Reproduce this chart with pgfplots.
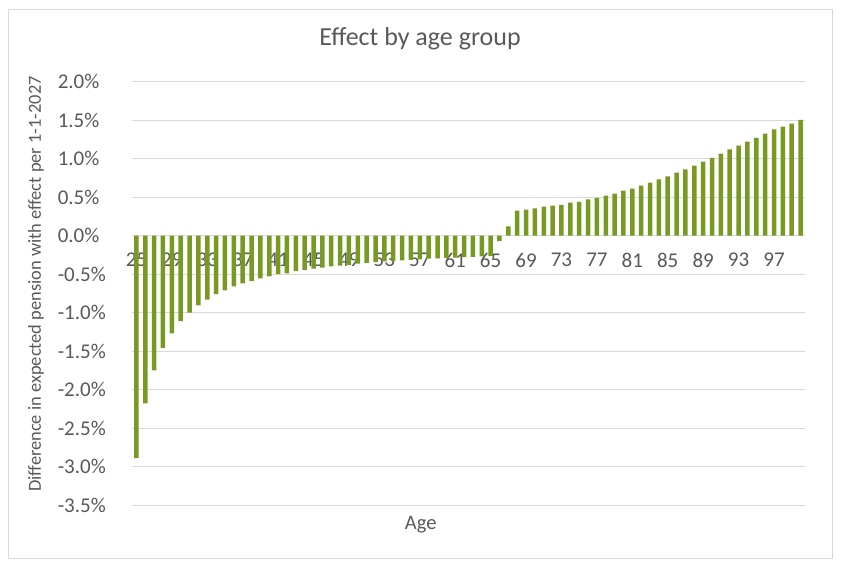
\documentclass[border=0pt]{standalone}
\usepackage{fontspec}
\setmainfont{Carlito}
\usepackage{pgfplots}
\pgfplotsset{compat=1.18}

\definecolor{bargreen}{RGB}{121,154,34}
\definecolor{txtgray}{HTML}{595959}
\definecolor{gridgray}{HTML}{D9D9D9}

\begin{document}
\begin{tikzpicture}
% chart area: 844 x 568, 1pt = 1px, y measured from the bottom
\path (0pt,0pt) rectangle (844pt,568pt);
\draw[gridgray, line width=0.8pt] (8.5pt,9.5pt) rectangle (832.5pt,558.5pt);

\begin{axis}[
    at={(132pt,63pt)}, anchor=south west,
    width=673pt, height=423.3pt, scale only axis,
    xmin=24.5, xmax=100.5,
    ymin=-3.5, ymax=2.0,
    axis x line*=middle,
    axis y line*=left,
    x axis line style={draw=gridgray, line width=0.8pt},
    y axis line style={draw=none},
    ymajorgrids=true,
    grid style={draw=gridgray, line width=0.8pt},
    major tick length=0pt,
    xtick={25,29,...,97},
    ytick={-3.5,-3,...,2},
    yticklabels={-3.5\%,-3.0\%,-2.5\%,-2.0\%,-1.5\%,-1.0\%,-0.5\%,0.0\%,0.5\%,1.0\%,1.5\%,2.0\%},
    /pgf/number format/assume math mode=true,
    tick label style={font=\fontsize{21}{25}\selectfont, text=txtgray},
    xticklabel style={anchor=north, yshift=-14pt},
    yticklabel style={anchor=east, inner sep=0pt, xshift=-22pt, text width=52pt, align=left},
    title={Effect by age group},
    title style={at={(axis description cs:0.428,1.0725)}, anchor=base,
        font=\fontsize{26}{30}\selectfont, text=txtgray},
    xlabel={Age},
    xlabel style={at={(axis description cs:0.429,-0.059)}, anchor=base,
        font=\fontsize{20.5}{24}\selectfont, text=txtgray},
    ylabel={Difference in expected pension with effect per 1-1-2027},
    ylabel style={at={(axis description cs:-0.1426,0.522)}, anchor=center, rotate=0,
        font=\fontsize{18.4}{22}\selectfont, text=txtgray},
    ybar, bar width=4.5pt,
    clip=false,
]
\addplot[fill=bargreen, draw=none] table {
age val
25 -2.89
26 -2.18
27 -1.75
28 -1.46
29 -1.27
30 -1.11
31 -1.00
32 -0.905
33 -0.83
34 -0.76
35 -0.71
36 -0.66
37 -0.62
38 -0.59
39 -0.555
40 -0.53
41 -0.50
42 -0.49
43 -0.46
44 -0.445
45 -0.43
46 -0.415
47 -0.40
48 -0.39
49 -0.38
50 -0.365
51 -0.355
52 -0.345
53 -0.335
54 -0.33
55 -0.32
56 -0.315
57 -0.31
58 -0.30
59 -0.295
60 -0.29
61 -0.285
62 -0.28
63 -0.275
64 -0.27
65 -0.265
66 -0.07
67 0.12
68 0.325
69 0.338
70 0.355
71 0.377
72 0.39
73 0.40
74 0.43
75 0.44
76 0.47
77 0.49
78 0.52
79 0.545
80 0.585
81 0.61
82 0.65
83 0.69
84 0.73
85 0.77
86 0.82
87 0.86
88 0.91
89 0.96
90 1.01
91 1.065
92 1.12
93 1.17
94 1.22
95 1.27
96 1.325
97 1.38
98 1.415
99 1.455
100 1.505
};
\end{axis}
\end{tikzpicture}
\end{document}
